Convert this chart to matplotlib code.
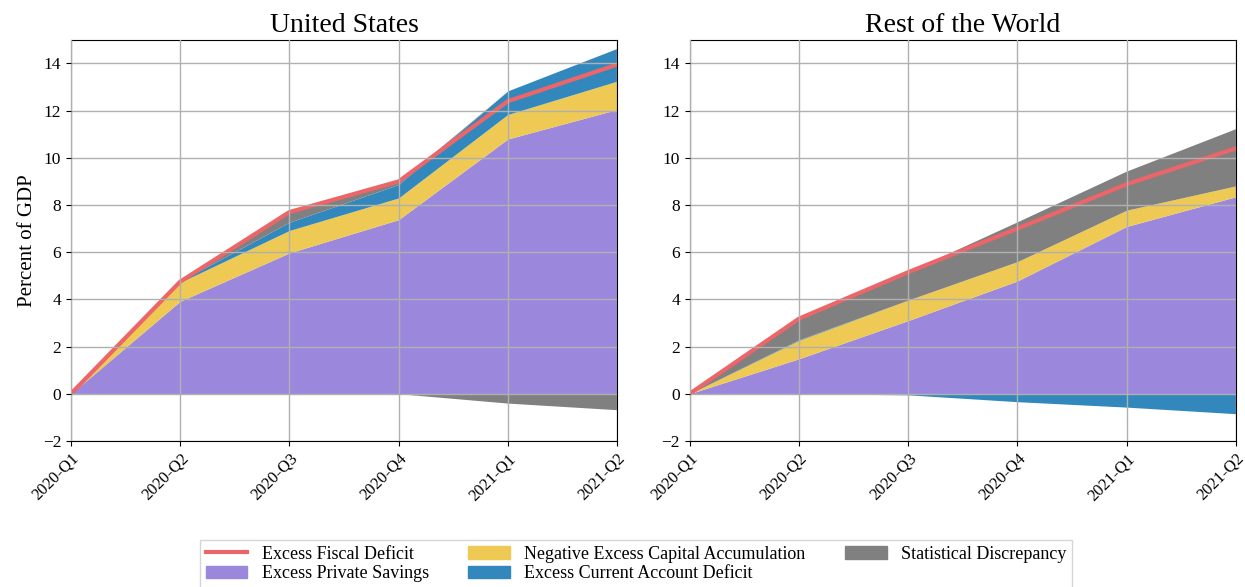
import matplotlib.pyplot as plt
from matplotlib.lines import Line2D
from matplotlib.patches import Patch
import numpy as np

plt.rcParams['font.family'] = ['Liberation Serif', 'DejaVu Serif']

quarters = ["2020-Q1", "2020-Q2", "2020-Q3", "2020-Q4", "2021-Q1", "2021-Q2"]

# United States
us_fiscal = [0, 4.75, 7.7, 9.0, 12.4, 13.95]
us_private = [0, 3.92, 5.97, 7.38, 10.8, 12.05]
us_capital = [0, 0.8, 0.95, 0.92, 1.04, 1.2]
us_current = [0, 0.05, 0.35, 0.57, 1.0, 1.39]
us_discrep = [0, 0.0, 0.4, 0.1, -0.4, -0.68]

# Rest of the World
row_fiscal = [0, 3.18, 5.15, 7.0, 8.88, 10.4]
row_private = [0, 1.48, 3.1, 4.78, 7.09, 8.35]
row_capital = [0, 0.78, 0.87, 0.82, 0.69, 0.46]
row_current = [0, 0.03, -0.05, -0.34, -0.57, -0.85]
row_discrep = [0, 0.88, 1.2, 1.69, 1.66, 2.43]

names = ["Excess Private Savings", "Negative Excess Capital Accumulation",
         "Excess Current Account Deficit", "Statistical Discrepancy"]
colors = ["#9b88dd", "#eeca55", "#3288bd", "#808080"]
red = "#ec6569"


def draw(ax, fiscal, parts, title):
    x = np.arange(len(quarters))
    pos = np.zeros(len(x))
    neg = np.zeros(len(x))
    for vals, c in zip(parts, colors):
        v = np.array(vals, dtype=float)
        p = np.clip(v, 0, None)
        n = np.clip(v, None, 0)
        ax.fill_between(x, pos, pos + p, color=c, lw=0)
        ax.fill_between(x, neg, neg + n, color=c, lw=0)
        pos = pos + p
        neg = neg + n
    ax.plot(x, fiscal, color=red, lw=3)
    ax.set_title(title, fontsize=20)
    ax.set_xlim(0, len(x) - 1)
    ax.set_ylim(-2, 15)
    ax.set_yticks(range(-2, 15, 2))
    ax.set_xticks(x)
    ax.set_xticklabels(quarters, rotation=45, ha="right", rotation_mode="anchor")
    ax.tick_params(labelsize=12.5)
    ax.tick_params(axis="x", labelsize=12)
    ax.grid(color="#b0b0b0", lw=1)
    ax.set_axisbelow(False)


fig = plt.figure(figsize=(12.45, 5.87), dpi=100)
ax1 = fig.add_axes([0.057, 0.249, 0.4386, 0.683])
ax2 = fig.add_axes([0.554, 0.249, 0.4386, 0.683])

draw(ax1, us_fiscal, [us_private, us_capital, us_current, us_discrep], "United States")
draw(ax2, row_fiscal, [row_private, row_capital, row_current, row_discrep], "Rest of the World")
ax1.set_ylabel("Percent of GDP", fontsize=15)

handles = [Line2D([], [], color=red, lw=3, label="Excess Fiscal Deficit")]
handles += [Patch(color=c, label=n) for c, n in zip(colors, names)]
fig.legend(handles=handles, loc="upper center", bbox_to_anchor=(0.511, 0.095),
           ncol=3, fontsize=13, frameon=True, fancybox=False, edgecolor="#cccccc",
           handlelength=2.3, columnspacing=2.2, labelspacing=0.15, borderpad=0.3)

fig.savefig("out.png", dpi=100)
